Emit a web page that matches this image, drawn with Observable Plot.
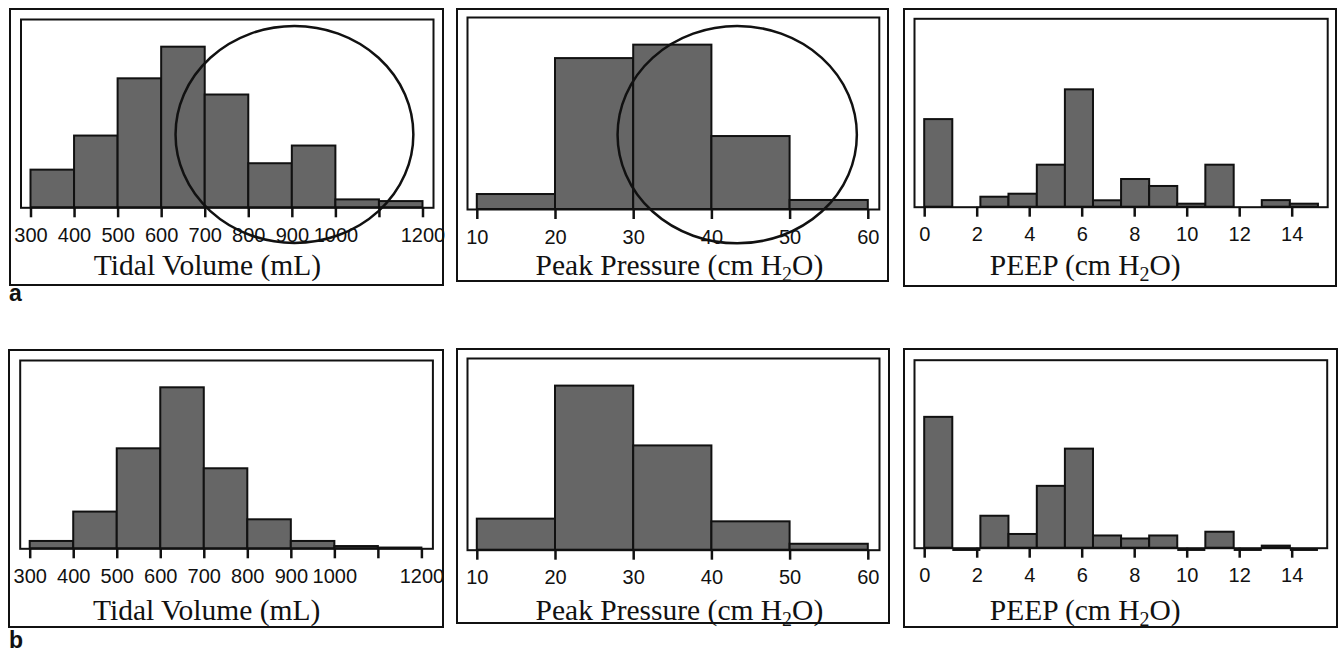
<!DOCTYPE html>
<html>
<head>
<meta charset="utf-8">
<script src="https://cdn.jsdelivr.net/npm/d3@7"></script>
<script src="https://cdn.jsdelivr.net/npm/@observablehq/plot@0.6"></script>
<style>
  html, body { margin: 0; padding: 0; background: #fff; }
  #root { position: relative; width: 1338px; height: 652px; overflow: hidden; background: #fff; }
  .box { position: absolute; border: 2px solid #111; box-sizing: content-box; background: #fff; }
  .box svg { display: block; }
  g[aria-label="x-axis tick"], g[aria-label="x-axis"] line, g[aria-label="x-axis"] path { stroke-width: 2.5px; stroke: #111; }
  g[aria-label="x-axis tick label"], g[aria-label="x-axis"] text { font-size: 20px; }
  .tag { position: absolute; font-family: "Liberation Sans", Arial, sans-serif; font-weight: bold; font-size: 23px; color: #111; line-height: 1; }
</style>
</head>
<body>
<div id="root"></div>
<script>
// ---------- data ----------
const tidalEdges = [300, 400, 500, 600, 700, 800, 900, 1000, 1100, 1200];
const tidalTicks = [300, 400, 500, 600, 700, 800, 900, 1000, 1100, 1200];
const tidalTickLabels = ["300", "400", "500", "600", "700", "800", "900", "1000", "", "1200"];
const tidalA = [20.0, 38.1, 68.5, 85.3, 59.9, 23.4, 32.8, 4.2, 3.3];
const tidalB = [3.9, 19.5, 53.1, 85.5, 42.5, 15.4, 3.9, 1.2, 0.4];

const peakEdges = [10, 20, 30, 40, 50, 60];
const peakTicks = [10, 20, 30, 40, 50, 60];
const peakTickLabels = ["10", "20", "30", "40", "50", "60"];
const peakA = [7.8, 78.6, 85.6, 38.0, 4.7];
const peakB = [16.2, 85.6, 54.4, 14.8, 3.1];

const peepEdges = [0, 1.07, 2.14, 3.21, 4.29, 5.36, 6.43, 7.5, 8.57, 9.64, 10.71, 11.79, 12.86, 13.93, 15];
const peepTicks = [0, 2, 4, 6, 8, 10, 12, 14];
const peepTickLabels = ["0", "2", "4", "6", "8", "10", "12", "14"];
const peepA = [46.5, 0, 5.3, 6.9, 22.3, 62.3, 3.4, 14.7, 11.0, 1.6, 22.3, 0, 3.5, 1.6];
const peepB = [69.6, 0, 17.0, 7.3, 32.9, 52.7, 6.5, 4.9, 6.5, 0, 8.5, 0, 1.1, 0];

const titles = ["Tidal Volume (mL)", "Peak Pressure (cm H2O)", "PEEP (cm H2O)"];
const panelTags = ["a", "b"];

// annotation ellipses (data units: centre x, centre y, radius x, radius y)
const ellipseTidalA = [906, 38.7, 273, 57.6];
const ellipsePeakA = [43.3, 38.7, 15.3, 56.6];

// ---------- layout ----------
const root = document.getElementById("root");

function panel(o) {
  const ox = o.outer[0] + 1, oy = o.outer[2] + 1;
  const W = Math.round(o.outer[1] - o.outer[0] - 2);
  const H = Math.round(o.outer[3] - o.outer[2] - 2);
  const div = document.createElement("div");
  div.className = "box";
  div.style.left = (o.outer[0] - 1) + "px";
  div.style.top = (o.outer[2] - 1) + "px";
  div.style.width = W + "px";
  div.style.height = H + "px";
  root.appendChild(div);

  const bins = o.edges.slice(0, -1).map((e, i) => ({x1: e, x2: o.edges[i + 1], v: o.values[i]}));
  const bars = bins.filter(d => d.v > 0);
  const empty = o.showEmpty ? bins.filter(d => d.v === 0) : [];
  const labelMap = new Map(o.ticks.map((t, i) => [t, o.labels[i]]));

  const mL = o.inner[0] - ox, mR = ox + W - o.inner[1];
  const mT = o.inner[2] - oy, mB = oy + H - o.inner[3];

  const plot = Plot.plot({
    width: W,
    height: H,
    marginLeft: mL,
    marginRight: mR,
    marginTop: mT,
    marginBottom: mB,
    style: {background: "white", overflow: "visible", fontFamily: "Liberation Sans, Arial, sans-serif", fontSize: "20px", color: "#111"},
    x: {
      domain: [o.ticks[0], o.ticks[o.ticks.length - 1]],
      range: [o.xr[0] - ox, o.xr[1] - ox],
      ticks: o.ticks,
      tickFormat: d => labelMap.get(d),
      tickSize: 10,
      tickPadding: 10,
      label: null
    },
    y: {domain: [0, 100], range: [o.inner[3] - oy, o.inner[2] - oy], axis: null},
    marks: [
      Plot.rect(bars, {x1: "x1", x2: "x2", y1: 0, y2: "v", fill: "#666666", stroke: "#111", strokeWidth: 2}),
      Plot.ruleY(empty, {x1: "x1", x2: "x2", y: 0, dy: 1.5, stroke: "#111", strokeWidth: 2.5}),
      Plot.frame({stroke: "#111", strokeWidth: 2}),
      Plot.text([o.title], {
        text: d => d,
        frameAnchor: "bottom-left",
        dx: o.titleC[0] - o.inner[0],
        dy: o.titleC[1] - o.inner[3],
        textAnchor: "middle",
        lineAnchor: "middle",
        fontFamily: "Liberation Serif, Times New Roman, serif",
        fontSize: 29.5,
        fill: "#111"
      })
    ]
  });

  // make axis ticks bold like the reference
  plot.querySelectorAll('[aria-label="x-axis tick"] path, [aria-label="x-axis tick"] line, [aria-label="x-axis"] .tick line')
    .forEach(p => { p.setAttribute("stroke-width", 2.5); p.setAttribute("stroke", "#111"); });

  // subscript in H2O
  plot.querySelectorAll("text, tspan").forEach(t => {
    if (t.children.length === 0 && t.textContent === o.title && o.title.includes("H2O")) {
      const [pre, post] = o.title.split("H2O");
      t.innerHTML = `${pre}H<tspan font-size="20" dy="6">2</tspan><tspan dy="-6">O${post}</tspan>`;
    }
  });

  if (o.ellipse) {
    const sx = plot.scale("x"), sy = plot.scale("y");
    const [cx, cy, rx, ry] = o.ellipse;
    const px = sx.apply(cx), py = sy.apply(cy);
    d3.select(plot).append("ellipse")
      .attr("cx", px).attr("cy", py)
      .attr("rx", Math.abs(sx.apply(cx + rx) - px))
      .attr("ry", Math.abs(sy.apply(cy + ry) - py))
      .attr("fill", "none").attr("stroke", "#111").attr("stroke-width", 2.5);
  }
  div.appendChild(plot);
}

panel({outer: [9.5, 442.5, 9, 285], inner: [20, 432.5, 19, 207.3], xr: [30, 422], titleC: [206.5, 265],
  title: titles[0], edges: tidalEdges, values: tidalA, ticks: tidalTicks, labels: tidalTickLabels, ellipse: ellipseTidalA});
panel({outer: [456.7, 887.5, 9, 281], inner: [466.7, 878.5, 17, 209], xr: [476.5, 867.5], titleC: [678.6, 265],
  title: titles[1], edges: peakEdges, values: peakA, ticks: peakTicks, labels: peakTickLabels, ellipse: ellipsePeakA});
panel({outer: [904.3, 1336.5, 9, 286], inner: [914.3, 1327.5, 18.3, 206.7], xr: [924.5, 1292], titleC: [1085, 265],
  title: titles[2], edges: peepEdges, values: peepA, ticks: peepTicks, labels: peepTickLabels});

panel({outer: [9.3, 443, 350, 626.7], inner: [20, 432.7, 360, 548.3], xr: [30, 421.7], titleC: [206.5, 610],
  title: titles[0], edges: tidalEdges, values: tidalB, ticks: tidalTicks, labels: tidalTickLabels, showEmpty: true});
panel({outer: [456.7, 888.7, 349.3, 623.3], inner: [466.7, 878.7, 358.3, 550], xr: [476.5, 867.5], titleC: [678.6, 610],
  title: titles[1], edges: peakEdges, values: peakB, ticks: peakTicks, labels: peakTickLabels, showEmpty: true});
panel({outer: [904.3, 1337, 349.3, 627.3], inner: [914.3, 1327, 360, 548], xr: [924.5, 1292], titleC: [1085, 610],
  title: titles[2], edges: peepEdges, values: peepB, ticks: peepTicks, labels: peepTickLabels, showEmpty: true});

// panel tags
[[panelTags[0], 9, 282], [panelTags[1], 9, 629]].forEach(([t, x, y]) => {
  const d = document.createElement("div");
  d.className = "tag";
  d.textContent = t;
  d.style.left = x + "px";
  d.style.top = y + "px";
  root.appendChild(d);
});
</script>
</body>
</html>
